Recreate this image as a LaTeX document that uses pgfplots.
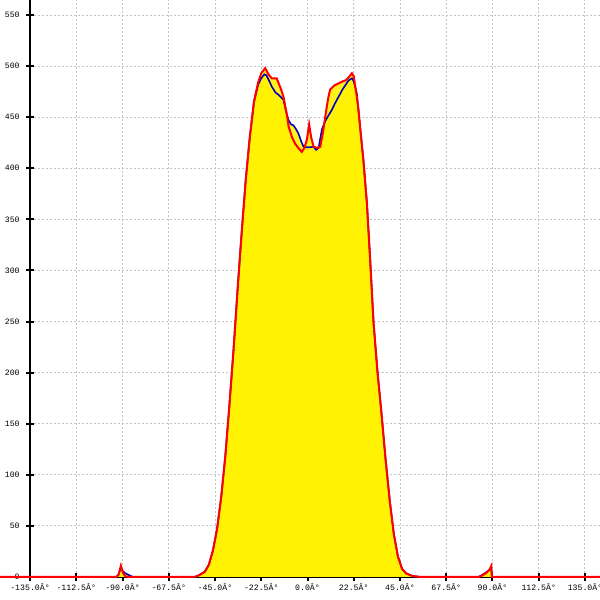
\documentclass[border=0pt]{standalone}
\usepackage{fontspec}
\usepackage{pgfplots}
\usepackage{pgfplotstable}
\pgfplotsset{compat=1.18}
\newfontfamily\tickfont{Liberation Mono}
\definecolor{gridgray}{RGB}{195,195,195}
\definecolor{linered}{RGB}{255,0,0}
\definecolor{lineblue}{RGB}{0,0,190}

\pgfplotstableread{
x y
-150 0
-93 0
-92 2
-91.3 7
-90.8 11
-90.2 7
-89.5 3
-88.5 0.5
-87 0
-55 0
-53 1.5
-50 5
-48 12
-46 26
-44 47
-42 78
-40 118
-38 168
-36 222
-34 282
-32 338
-30 390
-28 432
-26 466
-24 484
-22.5 493
-20.6 498
-19 492
-17.4 488
-15 488
-13 478
-11.7 470
-10 452
-9.2 441
-7.5 430
-6 424
-4.5 420
-2.8 416
-1.5 420
-0.3 428
0.8 443
1.8 430
3 421
4.5 420
6.2 421
7.5 435
8.6 450
10 468
11 477
13 481
15 483
17 485
18.5 486
20 489
21.6 493
22.5 490
24 470
24.8 457
26 432
27.2 408
28.9 366
30.5 310
32.1 250
34 202
36 160
38 115
40 75
42 42
44 20
46 8
48 3.5
51 1
55 0
83.5 0
85 1.5
87 4
88.5 7
89.4 10.8
89.7 0
150 0
}\redtab

\pgfplotstableread{
x y
-150 0
-93 0
-92 2
-91.3 6
-90.7 8.5
-90 6
-88.5 3.5
-87 2
-85.5 0.5
-84 0
-55 0
-53 1.5
-50 5
-48 12
-46 26
-44 47
-42 78
-40 118
-38 168
-36 222
-34 282
-32 338
-30 390
-28 432
-26 465
-24 482
-22.5 488
-21 492
-20 491
-18.5 485
-17.4 480
-15.5 474
-14.1 472
-11.7 467
-10.5 456
-9.2 447
-8 443
-6.8 442
-5.5 438
-4.4 434
-3 426
-1.9 421
0.5 420.5
2.9 421
4.2 418
5.4 420
7 438
8.6 446
10 451
11.8 457
13.5 464
15.1 470
17 477
18.3 481
20 486
21.6 488
22.5 485
24 473
24.8 457
26 432
27.2 408
28.9 366
30.5 310
32.1 250
34 202
36 160
38 115
40 75
42 42
44 20
46 8
48 3.5
51 1
55 0
83 0
84.5 1.5
86.5 4
88.5 7
89.4 9
89.7 0
150 0
}\bluetab

\begin{document}
\begin{tikzpicture}
\begin{axis}[
  scale only axis,
  width=285pt, height=288.5pt,
  xmin=-135, xmax=142.3,
  ymin=0, ymax=564.7,
  clip=false,
  axis x line*=bottom,
  axis y line*=left,
  axis line style={black, line width=1pt, -},
  tick align=center,
  major tick length=4pt,
  tick style={black, line width=1pt},
  xtick={-135,-112.5,-90,-67.5,-45,-22.5,0,22.5,45,67.5,90,112.5,135},
  xticklabels={-135.0Â°,-112.5Â°,-90.0Â°,-67.5Â°,-45.0Â°,-22.5Â°,0.0Â°,22.5Â°,45.0Â°,67.5Â°,90.0Â°,112.5Â°,135.0Â°},
  ytick={0,50,...,550},
  /pgf/number format/assume math mode=true,
  ticklabel style={font=\tickfont\fontsize{4.1}{5}\selectfont},
  xticklabel style={anchor=north, inner sep=0pt, yshift=-1.2pt},
  yticklabel style={anchor=east, inner sep=0pt, xshift=-3pt},
  grid=major,
  major grid style={gridgray, line width=0.5pt, dash pattern=on 1pt off 1pt},
]
\addplot[fill=yellow, fill opacity=0.9, draw=none] table[x=x,y=y] {\redtab} \closedcycle;
\addplot[fill=yellow, fill opacity=0.9, draw=none] table[x=x,y=y] {\bluetab} \closedcycle;
\addplot[lineblue, line width=0.8pt] table[x=x,y=y] {\bluetab};
\addplot[linered, line width=1pt] table[x=x,y=y] {\redtab};
\coordinate (bl) at (axis cs:-149.6,-22.5);
\coordinate (tr) at (axis cs:142.3,564.7);
\end{axis}
\pgfresetboundingbox
\path (bl) rectangle (tr);
\end{tikzpicture}
\end{document}
